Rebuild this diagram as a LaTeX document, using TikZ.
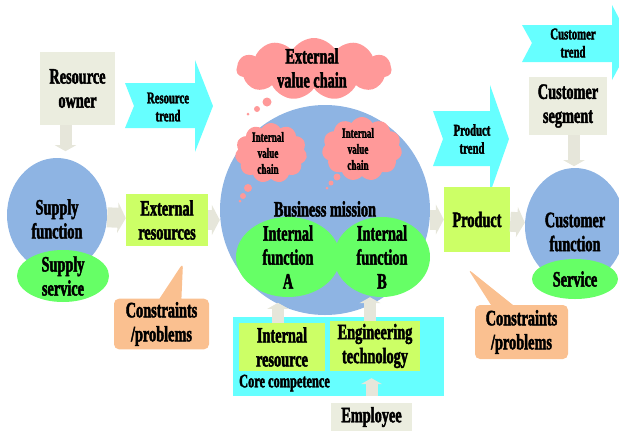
\documentclass[tikz,border=0pt]{standalone}
\usepackage{fontspec}
\setmainfont{Liberation Serif}[FakeStretch=0.65, BoldFeatures={FakeBold=2}]
\usepackage{tikz}
\usetikzlibrary{arrows.meta, positioning, calc, shapes.geometric, shapes.symbols, shapes.callouts}

\definecolor{beige}{HTML}{EBEDDF}
\definecolor{arrowgray}{HTML}{E6E6DA}
\definecolor{trendcyan}{HTML}{66FFFF}
\definecolor{missionblue}{HTML}{8EB4E3}
\definecolor{fngreen}{HTML}{66FF66}
\definecolor{lime}{HTML}{CCFF66}
\definecolor{cloudpink}{HTML}{FF9999}
\definecolor{noteorange}{HTML}{FAC090}

\tikzset{
  txt/.style={font=\bfseries\fontsize{22}{24}\selectfont, align=center},
  smalltxt/.style={font=\bfseries\fontsize{16.5}{18}\selectfont, align=center},
  tinytxt/.style={font=\bfseries\fontsize{14}{16}\selectfont, align=center},
  ownerbox/.style={txt, fill=beige, inner sep=2pt},
  limebox/.style={txt, fill=lime, inner sep=2pt},
  blueell/.style={ellipse, fill=missionblue, inner sep=0pt},
  greenell/.style={ellipse, fill=fngreen, inner sep=0pt},
  thought/.style={cloud, cloud puffs=11, cloud puff arc=120, fill=cloudpink, inner sep=0pt},
  constraint/.style={txt, rectangle callout, fill=noteorange, rounded corners=5pt,
    callout pointer width=22pt},
  flow/.style={draw=arrowgray, line width=20pt, -{Triangle[length=8pt, width=30pt]}},
  flowv/.style={draw=arrowgray, line width=12pt, -{Triangle[length=6pt, width=21pt]}},
}

\begin{document}
\begin{tikzpicture}[x=1pt, y=-1pt]
  \clip (0,0) rectangle (619,432);

  % trend arrows (notched tail, wide head)
  \fill[trendcyan] (125,83) -- (195,83) -- (195,60) -- (213,106) -- (195,152)
    -- (195,128) -- (125,128) -- (134,106) -- cycle;
  \node[smalltxt] (restrend) at (168,107) {Resource\\trend};
  \fill[trendcyan] (433,111) -- (490,111) -- (490,85) -- (509,139) -- (490,193)
    -- (490,166) -- (433,166) -- (443,139) -- cycle;
  \node[smalltxt] (prodtrend) at (472,139) {Product\\trend};
  \fill[trendcyan] (522,25) -- (612,25) -- (612,5) -- (632,43) -- (612,80)
    -- (612,62) -- (522,62) -- (532,43) -- cycle;
  \node[smalltxt] (custtrend) at (573,43) {Customer\\trend};

  % supply side
  \node[ownerbox, minimum width=75pt, minimum height=73pt] (owner) at (77.5,88.5) {Resource\\owner};
  \node[blueell, minimum width=100pt, minimum height=114pt,
    label={[txt, yshift=-4pt]center:Supply\\function}] (supply) at (57,215) {};
  \node[greenell, minimum width=92pt, minimum height=52pt,
    label={[txt]center:Supply\\service}] (supserv) at (63,276) {};
  \node[limebox, minimum width=82pt, minimum height=52pt] (extres) at (167,220) {External\\resources};

  % business mission
  \node[circle, fill=missionblue, minimum size=210pt, inner sep=0pt,
    label={[txt, yshift=1pt]center:Business mission}] (business) at (325,210) {};
  \node[thought, minimum width=155pt, minimum height=62pt,
    label={[txt, xshift=-2pt, yshift=1pt]center:External\\value chain}] (extchain) at (314,69) {};
  \fill[cloudpink] (267,102) circle (4.5pt) (257,109) circle (3pt) (248,114) circle (1.5pt);
  \node[thought, minimum width=72pt, minimum height=60pt,
    label={[tinytxt, xshift=-3pt]center:Internal\\value\\chain}] (intchainA) at (271,153) {};
  \fill[cloudpink] (248,188) circle (4pt) (243,196) circle (3pt) (240,201) circle (1.5pt);
  \node[thought, minimum width=80pt, minimum height=64pt,
    label={[tinytxt, xshift=-4pt]center:Internal\\value\\chain}] (intchainB) at (362,149) {};
  \fill[cloudpink] (337,177) circle (3.5pt) (331,183) circle (2.5pt) (327,188) circle (1.5pt);
  \node[greenell, minimum width=104pt, minimum height=80pt,
    label={[txt]center:Internal\\function\\A}] (fnA) at (288,257) {};
  \node[greenell, minimum width=96pt, minimum height=80pt,
    label={[txt]center:Internal\\function\\B}] (fnB) at (382,257) {};

  % core competence
  \node[fill=trendcyan, minimum width=211pt, minimum height=79pt, inner sep=0pt] (corecomp) at (338.5,356.5) {};
  \node[limebox, minimum width=86pt, minimum height=48pt] (intres) at (282,347) {Internal\\resource};
  \node[limebox, minimum width=90pt, minimum height=50pt] (engtech) at (375,346) {Engineering\\technology};
  \node[font=\bfseries\fontsize{19}{20}\selectfont, anchor=west, inner sep=0pt] (coretxt) at (239,383) {Core competence};
  \node[ownerbox, minimum width=81pt, minimum height=28pt] (employee) at (371.5,417) {Employee};

  % customer side
  \node[limebox, minimum width=66pt, minimum height=65pt] (product) at (477,219.5) {Product};
  \node[ownerbox, minimum width=78pt, minimum height=58pt] (segment) at (568,106) {Customer\\segment};
  \node[blueell, minimum width=100pt, minimum height=116pt,
    label={[txt, yshift=-6pt]center:Customer\\function}] (custfn) at (575,226) {};
  \node[greenell, minimum width=86pt, minimum height=40pt,
    label={[txt]center:Service}] (service) at (575,279) {};

  % constraints notes
  \coordinate (tipL) at (183,263);
  \coordinate (tipR) at (468,269);
  \node[constraint, minimum width=95pt, minimum height=48pt,
    callout absolute pointer={(tipL)}] (consL) at (161.5,324) {Constraints\\/problems};
  \node[constraint, minimum width=93pt, minimum height=54pt,
    callout absolute pointer={(tipR)}] (consR) at (521.5,332) {Constraints\\/problems};

  % flows
  \draw[flow] (supply) -- (extres);
  \draw[flow] (extres) -- (extres -| business.west);
  \draw[flow] (product -| business.east) -- (product);
  \draw[flow] (product) -- (custfn);
  \draw[flowv] ($(owner.south)+(-12,0)$) -- ($(owner.south)+(-12,26)$);
  \draw[flowv] ($(segment.south)+(6,0)$) -- ($(segment.south)+(6,31)$);
  \draw[flowv] ($(intres.north)+(-4,0)$) -- ($(intres.north)+(-4,-20)$);
  \draw[flowv] ($(engtech.north)+(-5,0)$) -- (fnB.south -| {$(engtech.north)+(-5,0)$});
  \draw[flowv, shorten <=7pt, shorten >=7pt] (employee) -- (employee |- engtech.south);
\end{tikzpicture}
\end{document}
